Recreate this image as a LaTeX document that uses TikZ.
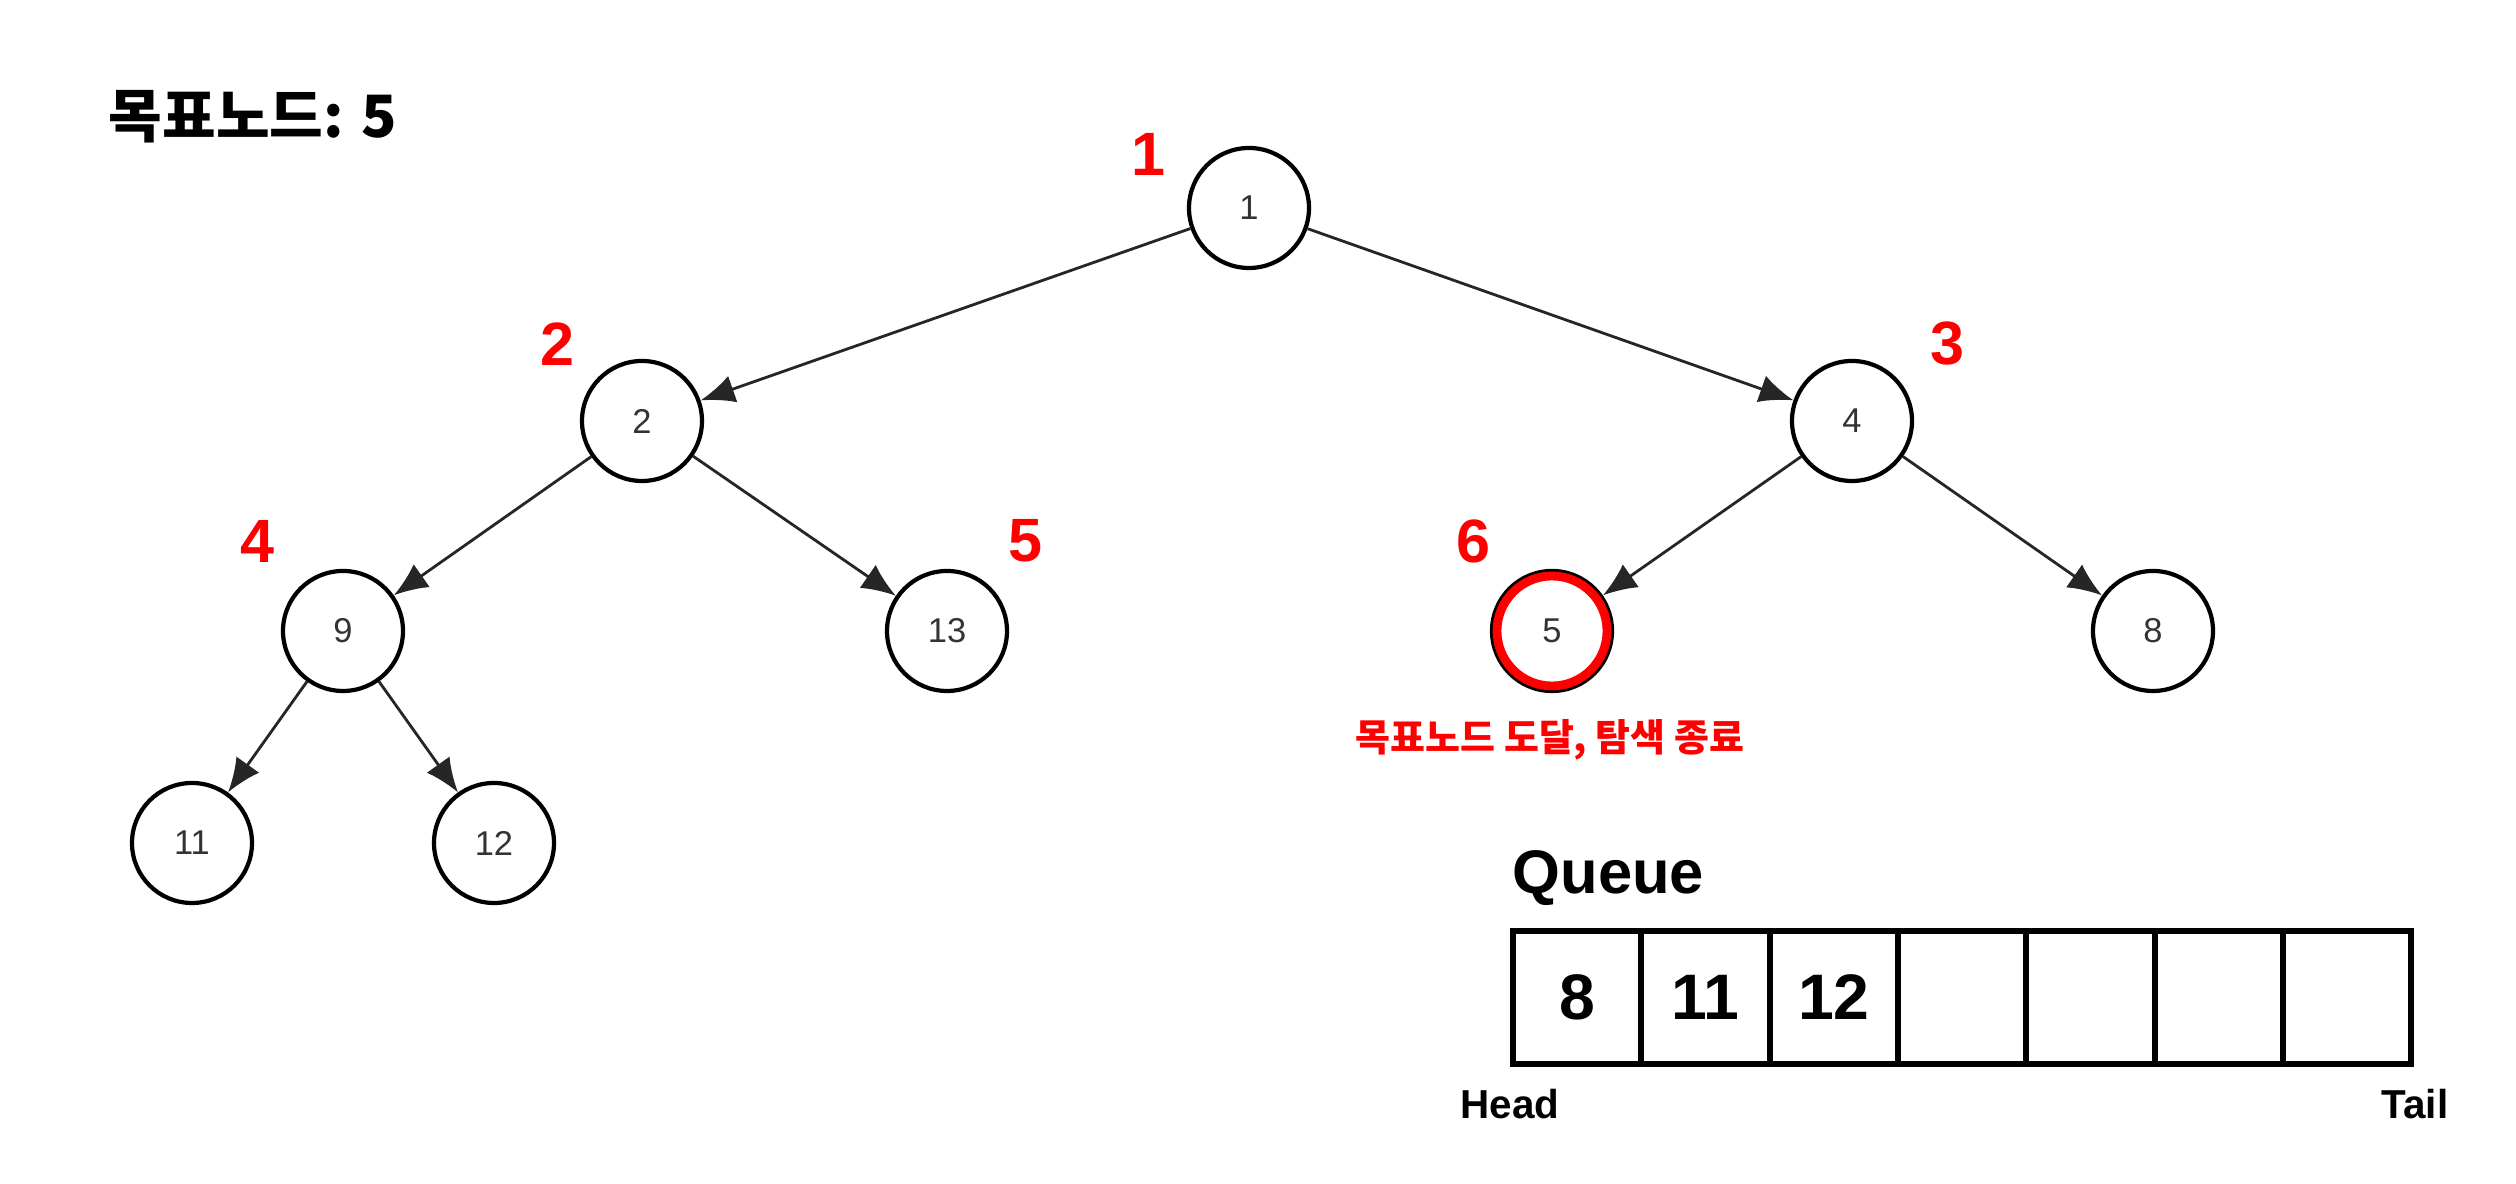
\documentclass[tikz,border=0pt]{standalone}
\usepackage{fontspec}
\setmainfont{Liberation Sans}
\newfontfamily\krfont{Noto Sans CJK KR}
\usetikzlibrary{arrows.meta}
\definecolor{labelgray}{HTML}{333333}
\begin{document}
\begin{tikzpicture}[
    vertex/.style={circle, draw, line width=1.2pt, minimum size=1.2cm, inner sep=0pt,
      text=labelgray, font=\fontsize{9.8}{10}\selectfont},
    order/.style={text=red, inner sep=0pt, font=\bfseries\fontsize{17.4}{18}\selectfont},
    edge/.style={-{Latex[length=3.4mm,width=2.8mm]}, line width=0.8pt, draw=black!85},
    cell/.style={draw, line width=1.7pt, minimum width=1.283cm, minimum height=1.33cm,
      inner sep=0pt, font=\bfseries\fontsize{18.3}{19}\selectfont},
    endlabel/.style={inner sep=0pt, font=\bfseries\fontsize{11.5}{12}\selectfont}
  ]
  \useasboundingbox (0,0) rectangle (25.16,11.84);
  % goal
  \node[anchor=west, inner sep=0pt, font=\krfont\bfseries\fontsize{16.6}{17}\selectfont]
    at (1.08,10.67) (goal) {목표노드: 5};
  % tree
  \node[vertex] at (12.49,9.76) (n1)  {1};
  \node[vertex] at (6.42,7.63)  (n2)  {2};
  \node[vertex] at (18.52,7.63) (n4)  {4};
  \node[vertex] at (3.43,5.53)  (n9)  {9};
  \node[vertex] at (9.47,5.53)  (n13) {13};
  \node[vertex] at (15.52,5.53) (n5)  {5};
  \node[vertex] at (21.53,5.53) (n8)  {8};
  \node[vertex] at (1.92,3.41)  (n11) {11};
  \node[vertex] at (4.94,3.41)  (n12) {12};
  \draw[red, line width=2.5pt] (n5.center) circle (0.55);
  \draw[edge] (n1) -- (n2);
  \draw[edge] (n1) -- (n4);
  \draw[edge] (n2) -- (n9);
  \draw[edge] (n2) -- (n13);
  \draw[edge] (n9) -- (n11);
  \draw[edge] (n9) -- (n12);
  \draw[edge] (n4) -- (n5);
  \draw[edge] (n4) -- (n8);
  % visiting order
  \node[order] at (11.48,10.30) (o1) {1};
  \node[order] at (5.58,8.40)   (o2) {2};
  \node[order] at (19.47,8.40)  (o3) {3};
  \node[order] at (2.58,6.43)   (o4) {4};
  \node[order] at (10.25,6.43)  (o5) {5};
  \node[order] at (14.73,6.43)  (o6) {6};
  \node[text=red, font=\krfont\bfseries\fontsize{10.8}{12}\selectfont]
    at (15.50,4.44) (found) {목표노드 도달, 탐색 종료};
  % queue
  \node[anchor=base west, inner sep=0pt, font=\bfseries\fontsize{17.5}{18}\selectfont]
    at (15.12,2.90) (queue) {Queue};
  \node[cell] at (15.772,1.865) (q1) {8};
  \node[cell] at (17.055,1.865) (q2) {11};
  \node[cell] at (18.338,1.865) (q3) {12};
  \node[cell] at (19.621,1.865) (q4) {};
  \node[cell] at (20.904,1.865) (q5) {};
  \node[cell] at (22.187,1.865) (q6) {};
  \node[cell] at (23.470,1.865) (q7) {};
  \node[endlabel] at (15.10,0.80) (head) {Head};
  \node[endlabel] at (24.15,0.80) (tail) {Tail};
\end{tikzpicture}
\end{document}
